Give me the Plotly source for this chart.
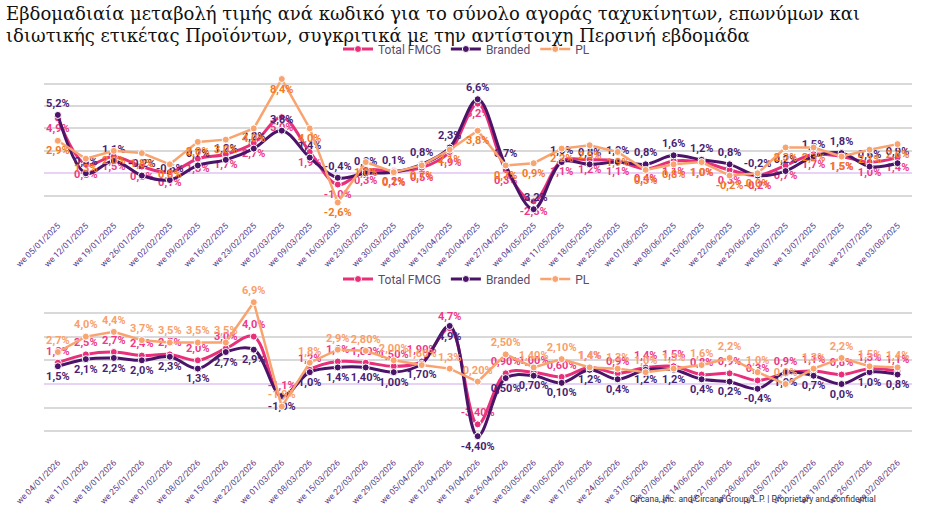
import plotly.graph_objects as go

# week labels
weeks_2025 = ["we 05/01/2025", "we 12/01/2025", "we 19/01/2025", "we 26/01/2025", "we 02/02/2025",
              "we 09/02/2025", "we 16/02/2025", "we 23/02/2025", "we 02/03/2025", "we 09/03/2025",
              "we 16/03/2025", "we 23/03/2025", "we 30/03/2025", "we 06/04/2025", "we 13/04/2025",
              "we 20/04/2025", "we 27/04/2025", "we 04/05/2025", "we 11/05/2025", "we 18/05/2025",
              "we 25/05/2025", "we 01/06/2025", "we 08/06/2025", "we 15/06/2025", "we 22/06/2025",
              "we 29/06/2025", "we 06/07/2025", "we 13/07/2025", "we 20/07/2025", "we 27/07/2025",
              "we 03/08/2025"]
weeks_2026 = ["we 04/01/2026", "we 11/01/2026", "we 18/01/2026", "we 25/01/2026", "we 01/02/2026",
              "we 08/02/2026", "we 15/02/2026", "we 22/02/2026", "we 01/03/2026", "we 08/03/2026",
              "we 15/03/2026", "we 22/03/2026", "we 29/03/2026", "we 05/04/2026", "we 12/04/2026",
              "we 19/04/2026", "we 26/04/2026", "we 03/05/2026", "we 10/05/2026", "we 17/05/2026",
              "we 24/05/2026", "we 31/05/2026", "we 07/06/2026", "we 14/06/2026", "we 21/06/2026",
              "we 28/06/2026", "we 05/07/2026", "we 12/07/2026", "we 19/07/2026", "we 26/07/2026",
              "we 02/08/2026"]

# % change vs same week last year
total_2025 = [4.9, 0.8, 1.5, 0.6, 0.1, 1.3, 1.7, 2.7, 5.0, 1.9, -1.0, 0.3, 0.2, 0.5, 1.9, 6.2,
              0.3, -2.5, 1.1, 1.2, 1.1, 0.4, 1.1, 1.0, 0.3, -0.2, 0.7, 1.7, 1.5, 1.0, 1.4]
branded_2025 = [5.2, 0.0, 1.1, -0.2, -0.6, 0.7, 1.2, 2.2, 3.8, 1.4, -0.4, 0.0, 0.1, 0.8, 2.3, 6.6,
                0.7, -3.2, 1.0, 0.8, 1.0, 0.8, 1.6, 1.2, 0.8, -0.2, 0.2, 1.5, 1.8, 0.6, 0.9]
pl_2025 = [2.9, 1.3, 2.0, 1.8, 0.8, 2.8, 3.0, 4.0, 8.4, 4.0, -2.6, 1.0, 0.1, 0.7, 2.1, 3.8,
           0.7, 0.9, 2.2, 2.5, 1.9, 0.3, 0.8, 1.0, -0.2, 0.0, 2.3, 2.3, 1.5, 2.1, 2.6]

total_2026 = [1.8, 2.5, 2.7, 2.4, 2.5, 2.0, 3.0, 4.0, -1.1, 1.2, 1.9, 1.8, 1.5, 1.9, 4.7, -3.4,
              0.9, 1.0, 0.6, 1.4, 0.9, 1.4, 1.5, 0.8, 0.9, 0.3, 0.9, 1.1, 0.8, 1.3, 1.1]
branded_2026 = [1.5, 2.1, 2.2, 2.0, 2.3, 1.3, 2.7, 2.9, -1.0, 1.0, 1.4, 1.4, 1.0, 1.7, 4.9, -4.4,
                0.5, 0.7, 0.1, 1.2, 0.4, 1.2, 1.2, 0.4, 0.2, -0.4, 1.0, 0.7, 0.0, 1.0, 0.8]
pl_2026 = [2.7, 4.0, 4.4, 3.7, 3.5, 3.5, 3.5, 6.9, -1.9, 1.8, 2.9, 2.8, 2.0, 1.6, 1.3, 0.2,
           2.5, 1.4, 2.1, 1.4, 1.3, 1.0, 1.3, 1.6, 2.2, 1.0, 0.0, 1.3, 2.2, 1.5, 1.4]
# weeks whose labels were shown with two decimals in the 2026 panel
two_dec_2026 = [11, 12, 13, 15, 16, 17, 18]

PINK = "#e8307a"
PURPLE = "#4b1468"
ORANGE = "#f9a36f"
LBL_FONT = "Liberation Sans Narrow, Roboto, sans-serif"


def pct(vals, two_dec=()):
    out = []
    for i, v in enumerate(vals):
        s = f"{v:.2f}" if i in two_dec else f"{v:.1f}"
        out.append(s.replace(".", ",") + "%")
    return out


def series(name, x, y, color, txtcolor, pos, spline, xa, ya, leg, two_dec=()):
    return go.Scatter(
        name=name, x=x, y=y, xaxis=xa, yaxis=ya, legend=leg,
        mode="lines+markers+text",
        line=dict(color=color, width=3 if spline else 2.5,
                  shape="spline" if spline else "linear", smoothing=1.0),
        marker=dict(size=7, color=color, line=dict(color="white", width=1)),
        text=pct(y, two_dec), textposition=pos,
        textfont=dict(family=LBL_FONT, size=11, color=txtcolor, weight="bold"),
        cliponaxis=False,
    )


fig = go.Figure([
    series("Total FMCG", weeks_2025, total_2025, PINK, "#ee3a86", "bottom center", True, "x", "y", "legend"),
    series("Branded", weeks_2025, branded_2025, PURPLE, "#4b1f72", "top center", True, "x", "y", "legend"),
    series("PL", weeks_2025, pl_2025, ORANGE, "#f47a22", "bottom center", False, "x", "y", "legend"),
    series("Total FMCG", weeks_2026, total_2026, PINK, "#ee3a86", "top center", True, "x2", "y2", "legend2", two_dec_2026),
    series("Branded", weeks_2026, branded_2026, PURPLE, "#4b1f72", "bottom center", True, "x2", "y2", "legend2", two_dec_2026),
    series("PL", weeks_2026, pl_2026, ORANGE, "#f9a06a", "top center", False, "x2", "y2", "legend2", two_dec_2026),
])

xax = dict(type="category", range=[-0.5, 30.5], domain=[0.047, 0.977], tickangle=-45,
           showgrid=False, showline=False, ticks="", zeroline=False, automargin=False,
           tickfont=dict(family=LBL_FONT, size=8.5, color="#5b3a86"))
yax = dict(showticklabels=False, showgrid=True, gridcolor="#d9d9d9", gridwidth=2, automargin=False,
           zeroline=True, zerolinecolor="#e8d2f6", zerolinewidth=1.5, dtick=2)
legfont = dict(family=LBL_FONT, size=12, color="#5a4a6e")

fig.update_layout(
    width=933, height=522,
    margin=dict(l=0, r=0, t=0, b=0),
    paper_bgcolor="white", plot_bgcolor="white",
    xaxis=dict(xax, anchor="y"),
    yaxis=dict(yax, range=[-4, 10], domain=[0.582, 0.883], anchor="x"),
    xaxis2=dict(xax, anchor="y2"),
    yaxis2=dict(yax, range=[-6, 8], domain=[0.128, 0.446], anchor="x2"),
    legend=dict(orientation="h", x=0.5, xanchor="center", y=1 - 49 / 522, yanchor="middle",
                font=legfont, bgcolor="rgba(0,0,0,0)", itemwidth=30, tracegroupgap=0),
    legend2=dict(orientation="h", x=0.5, xanchor="center", y=1 - 279 / 522, yanchor="middle",
                 font=legfont, bgcolor="rgba(0,0,0,0)", itemwidth=30, tracegroupgap=0),
    showlegend=True,
    annotations=[
        dict(text="Εβδομαδιαία μεταβολή τιμής ανά κωδικό για το σύνολο αγοράς ταχυκίνητων, επωνύμων και",
             xref="paper", yref="paper", x=0.004, y=1 - 1 / 522, xanchor="left", yanchor="top",
             showarrow=False, font=dict(family="DejaVu Serif", size=18, color="#111111")),
        dict(text="ιδιωτικής ετικέτας Προϊόντων, συγκριτικά με την αντίστοιχη Περσινή εβδομάδα",
             xref="paper", yref="paper", x=0.004, y=1 - 23 / 522, xanchor="left", yanchor="top",
             showarrow=False, font=dict(family="DejaVu Serif", size=18, color="#111111")),
        dict(text="Circana, Inc. and Circana Group, L.P. | Proprietary and confidential",
             xref="paper", yref="paper", x=878 / 933, y=1 - 499 / 522, xanchor="right", yanchor="middle",
             showarrow=False, font=dict(family=LBL_FONT, size=8.5, color="#333333")),
    ],
)

fig.write_html("out.html", config={"displayModeBar": False},
               post_script="document.body.style.margin='0';")
